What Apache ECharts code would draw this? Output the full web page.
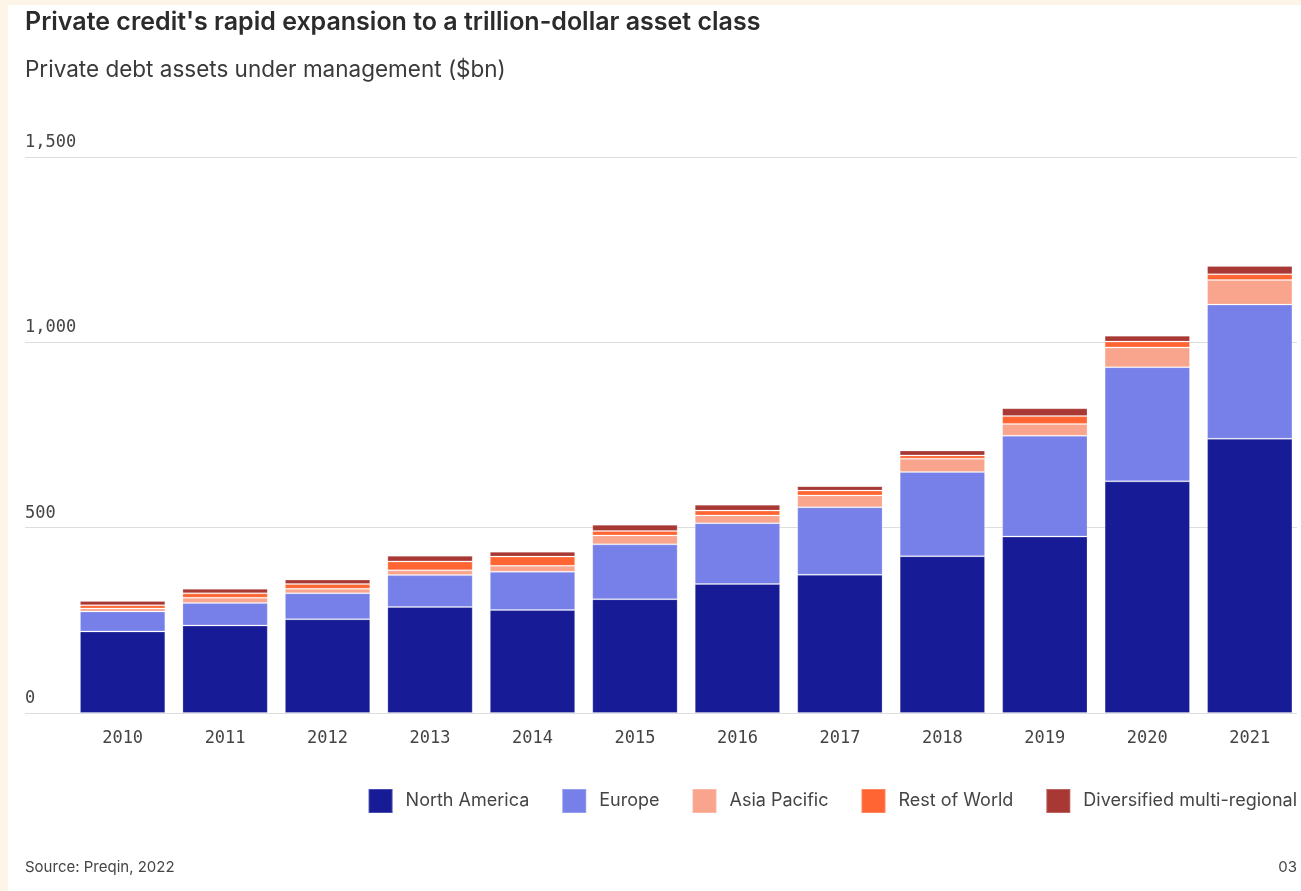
<!DOCTYPE html>
<html>
<head>
<meta charset="utf-8">
<script src="https://cdn.jsdelivr.net/npm/echarts@6/dist/echarts.min.js"></script>
<style>
html,body{margin:0;padding:0;background:#ffffff;}
#chart{width:1301px;height:891px;}
</style>
</head>
<body>
<div id="chart"></div>
<script>
const years = ['2010','2011','2012','2013','2014','2015','2016','2017','2018','2019','2020','2021'];
const northAmerica = [220, 236, 253, 286, 278, 307, 348, 373, 423, 476, 625, 740];
const europe       = [54, 61, 70, 86, 103, 148, 164, 182, 227, 272, 308, 362];
const asiaPacific  = [8, 14, 12, 13, 16, 24, 21, 32, 36, 32, 53, 66];
const restOfWorld  = [9, 12, 13, 24, 25, 12, 13, 13, 9, 21, 16, 16];
const diversified  = [11, 12, 12, 15, 13, 17, 16, 12, 13, 21, 16, 22];
const yTicks = [0, 500, 1000, 1500];

const seriesDefs = [
  ['North America', northAmerica, '#171c96'],
  ['Europe', europe, '#7780e8'],
  ['Asia Pacific', asiaPacific, '#f9a48d'],
  ['Rest of World', restOfWorld, '#fe6533'],
  ['Diversified multi-regional', diversified, '#a83834']
];

const chart = echarts.init(document.getElementById('chart'), null, {renderer: 'canvas'});
const mono = '"DejaVu Sans Mono", "Liberation Mono", monospace';
const sans = 'Inter, "Noto Sans", sans-serif';

chart.setOption({
  backgroundColor: '#ffffff',
  animation: false,
  graphic: [
    {type: 'rect', left: 0, top: 0, shape: {width: 8, height: 891}, style: {fill: '#fdf5e8'}, z: 100},
    {type: 'rect', left: 0, top: 0, shape: {width: 1301, height: 5}, style: {fill: '#fdf5e8'}, z: 100},
    {type: 'text', left: 25, top: 10, style: {text: "Private credit's rapid expansion to a trillion-dollar asset class", font: '600 25px ' + sans, fill: '#2b2b2b'}},
    {type: 'text', left: 25, top: 59, style: {text: 'Private debt assets under management ($bn)', font: '400 22.5px ' + sans, fill: '#3a3a3a'}},
    {type: 'text', left: 25, top: 860, style: {text: 'Source: Preqin, 2022', font: '400 15px ' + sans, fill: '#444444'}},
    {type: 'text', right: 4, top: 860, style: {text: '03', font: '400 15px ' + sans, fill: '#444444'}}
  ],
  legend: {
    right: 4,
    top: 788,
    padding: 0,
    itemWidth: 24,
    itemHeight: 24,
    itemGap: 32,
    icon: 'rect',
    textStyle: {fontFamily: sans, fontSize: 18, color: '#444444', padding: [0,0,0,8]},
    data: seriesDefs.map(d => d[0])
  },
  grid: [
    {left: 71.4, top: 157, width: 1234.2, bottom: 178, containLabel: false},
    {left: 25, top: 157, right: 4, bottom: 178, containLabel: false}
  ],
  xAxis: [
    {
      gridIndex: 0, type: 'category', data: years,
      axisLine: {show: false}, axisTick: {show: false},
      axisLabel: {fontFamily: mono, fontSize: 17, color: '#444444', margin: 17}
    },
    {gridIndex: 1, type: 'value', min: 0, max: 1, show: false}
  ],
  yAxis: [
    {gridIndex: 0, type: 'value', min: yTicks[0], max: yTicks[yTicks.length-1], interval: 500, show: false},
    {
      gridIndex: 1, type: 'value', min: yTicks[0], max: yTicks[yTicks.length-1], interval: 500,
      axisLine: {show: false}, axisTick: {show: false},
      splitLine: {lineStyle: {color: '#dedede', width: 1}},
      axisLabel: {
        inside: true, margin: 0, verticalAlign: 'bottom',
        fontFamily: mono, fontSize: 17, color: '#444444', lineHeight: 17, padding: [0,0,6,0],
        formatter: v => v.toLocaleString('en-US')
      }
    }
  ],
  series: seriesDefs.map(d => ({
    name: d[0], type: 'bar', stack: 'total', xAxisIndex: 0, yAxisIndex: 0,
    data: d[1], barCategoryGap: '16.7%',
    itemStyle: {color: d[2], borderColor: 'rgba(255,255,255,0.22)', borderWidth: 1}
  }))
});
</script>
</body>
</html>
